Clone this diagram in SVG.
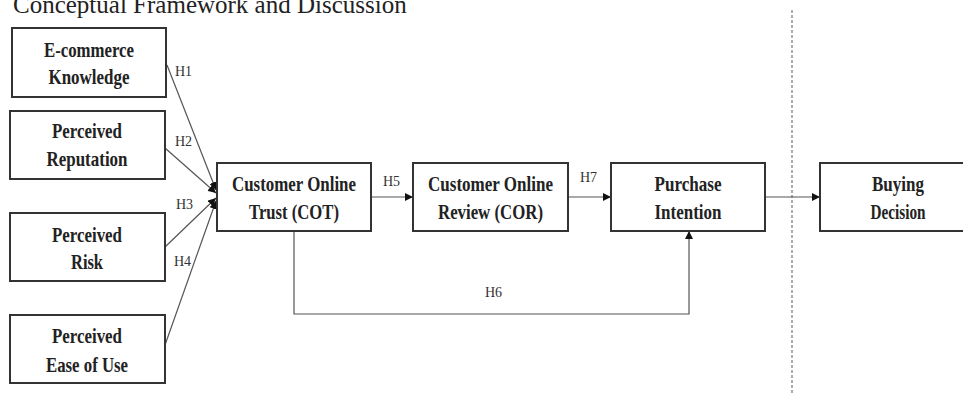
<svg xmlns="http://www.w3.org/2000/svg" width="963" height="395" viewBox="0 0 963 395">
<style>
.box{fill:#fff;stroke:#333;stroke-width:2}
.t{font-family:"Liberation Serif","Times New Roman",serif;font-weight:bold;font-size:21px;fill:#222;text-anchor:middle}
.h{font-family:"Liberation Serif","Times New Roman",serif;font-size:14px;fill:#333}
.ln{fill:none;stroke:#555;stroke-width:1.2}
.title{font-family:"Liberation Serif","Times New Roman",serif;font-size:25px;fill:#222}
</style>
<defs>
<marker id="ah" viewBox="0 0 10 10" refX="10" refY="5" markerWidth="8" markerHeight="8" markerUnits="userSpaceOnUse" orient="auto">
<path d="M0,0 L10,5 L0,10 z" fill="#111"/>
</marker>
</defs>
<rect width="963" height="395" fill="#fff"/>
<text class="title" x="13" y="13">Conceptual Framework and Discussion</text>
<line x1="792" y1="10" x2="792" y2="395" stroke="#777" stroke-width="1.2" stroke-dasharray="3,2"/>

<g id="connectors">
<line class="ln" x1="167" y1="65" x2="216" y2="190" marker-end="url(#ah)"/>
<line class="ln" x1="165" y1="148" x2="216" y2="193" marker-end="url(#ah)"/>
<line class="ln" x1="165" y1="247" x2="216" y2="198" marker-end="url(#ah)"/>
<line class="ln" x1="165" y1="345" x2="216" y2="201" marker-end="url(#ah)"/>
<line class="ln" x1="371" y1="197" x2="413" y2="197" marker-end="url(#ah)"/>
<line class="ln" x1="568" y1="197" x2="611" y2="197" marker-end="url(#ah)"/>
<line class="ln" x1="765" y1="197" x2="820" y2="197" marker-end="url(#ah)"/>
<polyline class="ln" points="294,231 294,314 689,314 689,231" marker-end="url(#ah)"/>
<text class="h" x="175" y="76">H1</text>
<text class="h" x="175" y="146">H2</text>
<text class="h" x="176" y="209">H3</text>
<text class="h" x="174" y="266">H4</text>
<text class="h" x="383" y="186">H5</text>
<text class="h" x="485" y="297">H6</text>
<text class="h" x="580" y="182">H7</text>
</g>

<g id="ecommerce-knowledge">
<rect class="box" x="12" y="28" width="154" height="69"/>
<text class="t" x="89" y="57" textLength="90" lengthAdjust="spacingAndGlyphs">E-commerce</text>
<text class="t" x="89" y="84" textLength="81" lengthAdjust="spacingAndGlyphs">Knowledge</text>
</g>
<g id="perceived-reputation">
<rect class="box" x="10" y="111" width="155" height="68"/>
<text class="t" x="87" y="138" textLength="70" lengthAdjust="spacingAndGlyphs">Perceived</text>
<text class="t" x="87" y="166" textLength="81" lengthAdjust="spacingAndGlyphs">Reputation</text>
</g>
<g id="perceived-risk">
<rect class="box" x="10" y="213" width="155" height="68"/>
<text class="t" x="87" y="242" textLength="70" lengthAdjust="spacingAndGlyphs">Perceived</text>
<text class="t" x="87" y="269" textLength="32" lengthAdjust="spacingAndGlyphs">Risk</text>
</g>
<g id="perceived-ease-of-use">
<rect class="box" x="10" y="315" width="155" height="68"/>
<text class="t" x="87" y="343" textLength="70" lengthAdjust="spacingAndGlyphs">Perceived</text>
<text class="t" x="87" y="372" textLength="82" lengthAdjust="spacingAndGlyphs">Ease of Use</text>
</g>
<g id="customer-online-trust">
<rect class="box" x="217" y="163" width="154" height="68"/>
<text class="t" x="294" y="191" textLength="124" lengthAdjust="spacingAndGlyphs">Customer Online</text>
<text class="t" x="294" y="219" textLength="90" lengthAdjust="spacingAndGlyphs">Trust (COT)</text>
</g>
<g id="customer-online-review">
<rect class="box" x="413" y="163" width="155" height="68"/>
<text class="t" x="490.5" y="191" textLength="125" lengthAdjust="spacingAndGlyphs">Customer Online</text>
<text class="t" x="490.5" y="219" textLength="105" lengthAdjust="spacingAndGlyphs">Review (COR)</text>
</g>
<g id="purchase-intention">
<rect class="box" x="611" y="163" width="154" height="68"/>
<text class="t" x="688" y="191" textLength="67" lengthAdjust="spacingAndGlyphs">Purchase</text>
<text class="t" x="688" y="219" textLength="67" lengthAdjust="spacingAndGlyphs">Intention</text>
</g>
<g id="buying-decision">
<rect class="box" x="820" y="163" width="155" height="68"/>
<text class="t" x="898" y="191" textLength="52" lengthAdjust="spacingAndGlyphs">Buying</text>
<text class="t" x="898" y="219" textLength="55" lengthAdjust="spacingAndGlyphs">Decision</text>
</g>
</svg>
